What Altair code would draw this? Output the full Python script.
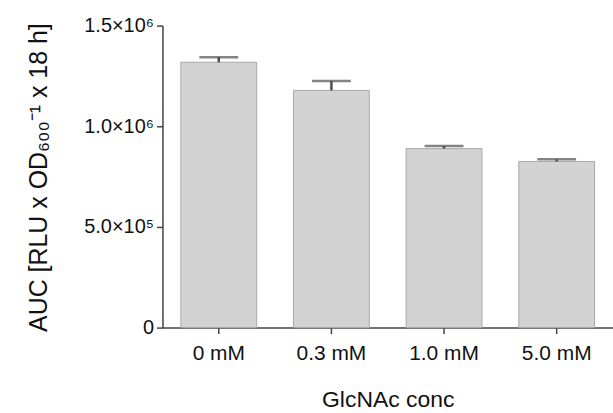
import altair as alt
import pandas as pd

# GlcNAc concentrations and area-under-curve values (mean and mean + SEM)
conc = ["0 mM", "0.3 mM", "1.0 mM", "5.0 mM"]
auc_mean = [1318000, 1178000, 889000, 825000]
auc_upper = [1343000, 1225000, 902000, 836000]
y_ticks = [0, 500000, 1000000, 1500000]

df = pd.DataFrame({"conc": conc, "mean": auc_mean, "upper": auc_upper})

font = "Liberation Sans"

x_scale = alt.Scale(paddingInner=0.327, paddingOuter=0.1635)
y_scale = alt.Scale(domain=[0, 1500000], nice=False)

x_axis = alt.Axis(
    title="GlcNAc conc",
    labelAngle=0,
    labelFontSize=21,
    labelBaseline="alphabetic",
    labelPadding=26,
    titleFontSize=23,
    titleBaseline="alphabetic",
    titleY=79,
    grid=False,
)
y_axis = alt.Axis(
    title="AUC [RLU x OD₆₀₀⁻¹ x 18 h]",
    values=y_ticks,
    labelExpr="datum.value == 0 ? '0' : datum.value == 500000 ? '5.0×10⁵' : datum.value == 1000000 ? '1.0×10⁶' : '1.5×10⁶'",
    labelFontSize=20,
    labelPadding=3,
    titleFontSize=25,
    titleAngle=-90,
    titleAlign="center",
    titleBaseline="middle",
    titleX=-124,
    titleY=152,
    grid=False,
)

x_enc = alt.X("conc:N", sort=conc, scale=x_scale, axis=x_axis)

bars = alt.Chart(df).mark_bar(
    color="#d3d3d3", stroke="#a8a8a8", strokeWidth=1
).encode(
    x=x_enc,
    y=alt.Y("mean:Q", scale=y_scale, axis=y_axis),
)

stems = alt.Chart(df).mark_rule(color="#505050", strokeWidth=2.5).encode(
    x=x_enc,
    y=alt.Y("mean:Q", scale=y_scale, axis=y_axis),
    y2="upper:Q",
)

caps = alt.Chart(df).mark_tick(color="#505050", size=39, thickness=2.5).encode(
    x=x_enc,
    y=alt.Y("upper:Q", scale=y_scale, axis=y_axis),
)

chart = (
    alt.layer(bars, stems, caps)
    .properties(
        width=452,
        height=303,
        background="white",
        autosize=alt.AutoSizeParams(type="none"),
        padding={"left": 163, "top": 25, "right": 0, "bottom": 85},
    )
    .configure_view(strokeWidth=0)
    .configure_axis(
        labelFont=font,
        labelColor="#111",
        titleFont=font,
        titleFontWeight="normal",
        titleColor="#111",
        domainColor="#444",
        domainWidth=1.5,
        tickColor="#444",
        tickWidth=1.5,
        tickSize=6,
        grid=False,
    )
)

chart.save("out.html", embed_options={"renderer": "svg", "actions": False})
